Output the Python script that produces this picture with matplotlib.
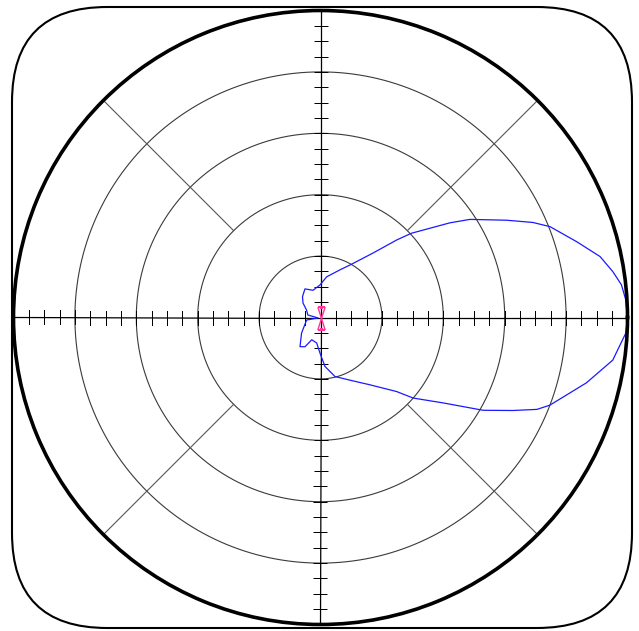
import numpy as np
import matplotlib
matplotlib.use("Agg")
import matplotlib.pyplot as plt
from matplotlib.patches import FancyBboxPatch
from matplotlib.path import Path

# --- data: radiation pattern (angle in degrees, radius in ring units 0..5) ---
pattern_theta_deg = [0, 3.3, 6.2, 8.9, 12.3, 16.5, 21.6, 24.1, 27.6, 33.3, 36.2, 42.8,
                     45.5, 50.9, 60.7, 67.7, 81.4, 90.9, 105.3, 118.5, 130.6, 140.4,
                     151.5, 168.7, 191.0, 190.3, 219.5, 234.9, 242.0, 248.6, 261.5,
                     269.2, 275.2, 283.8, 295.3, 306.3, 315.8, 319.0, 325.1, 330.3,
                     334.2, 337.0, 339.1, 346.2, 351.7, 357.1, 360]
pattern_r = [5.00, 4.98, 4.93, 4.82, 4.66, 4.35, 4.02, 3.79, 3.42, 2.91, 2.61, 2.02,
             1.77, 1.35, 0.98, 0.84, 0.67, 0.53, 0.46, 0.53, 0.45, 0.37,
             0.26, 0.21, 0.04, 0.23, 0.40, 0.58, 0.54, 0.39, 0.42,
             0.58, 0.80, 0.99, 1.13, 1.36, 1.73, 2.00, 2.43, 3.05,
             3.48, 3.83, 4.00, 4.46, 4.81, 4.98, 5.00]

ring_radii = [1, 2, 3, 4]
outer_radius = 5
spoke_angles_deg = [45, 135, 225, 315]
spoke_start = 2
tick_step = 0.25

W, H = 639, 631
fig = plt.figure(figsize=(W / 100, H / 100), dpi=100)

# rounded frame
fx0, fy0, fx1, fy1 = 12, 7, 632, 628
rad = 95
frame = FancyBboxPatch((fx0 / W, 1 - fy1 / H), (fx1 - fx0) / W, (fy1 - fy0) / H,
                       boxstyle="round,pad=0,rounding_size=%f" % (rad / W),
                       transform=fig.transFigure, facecolor="none",
                       edgecolor="black", linewidth=1.5, mutation_aspect=W / H)
fig.patches.append(frame)

cx, cy, R = 320.5, 317.5, 307
ax = fig.add_axes([(cx - R) / W, (H - cy - R) / H, 2 * R / W, 2 * R / H],
                  projection="polar")
ax.set_facecolor("none")
ax.set_ylim(0, outer_radius)
ax.grid(False)
ax.set_xticks([])
ax.set_yticks([])
ax.spines["polar"].set_linewidth(2.6)
ax.spines["polar"].set_color("black")

full = np.linspace(0, 2 * np.pi, 721)
for r in ring_radii:
    ax.plot(full, np.full_like(full, r), color="#3a3a3a", lw=0.8)

for a in spoke_angles_deg:
    t = np.deg2rad(a)
    ax.plot([t, t], [spoke_start, outer_radius], color="#555555", lw=0.8)

# axes lines through centre
for a in [0, 90, 180, 270]:
    t = np.deg2rad(a)
    ax.plot([t, t], [0, outer_radius], color="black", lw=0.9)

ticks = np.arange(tick_step, outer_radius, tick_step)
for a, m in [(0, "|"), (180, "|"), (90, "_"), (270, "_")]:
    t = np.deg2rad(a)
    ax.plot(np.full_like(ticks, t), ticks, linestyle="none", marker=m,
            markersize=9.4, markeredgewidth=0.72, color="black",
            antialiased=False)

ax.plot(np.deg2rad(pattern_theta_deg), pattern_r, color="#1a1aff", lw=0.9)

# hourglass marker at centre
hg = Path([(-0.16, 0.5), (0.16, 0.5), (0, 0), (0.16, -0.5), (-0.16, -0.5), (0, 0), (-0.16, 0.5)],
          [Path.MOVETO] + [Path.LINETO] * 6)
ax.plot([0], [0], marker=hg, markersize=16, markerfacecolor="none",
        markeredgecolor="#ff3399", markeredgewidth=1.0, linestyle="none")

fig.savefig("out.png", dpi=100)
